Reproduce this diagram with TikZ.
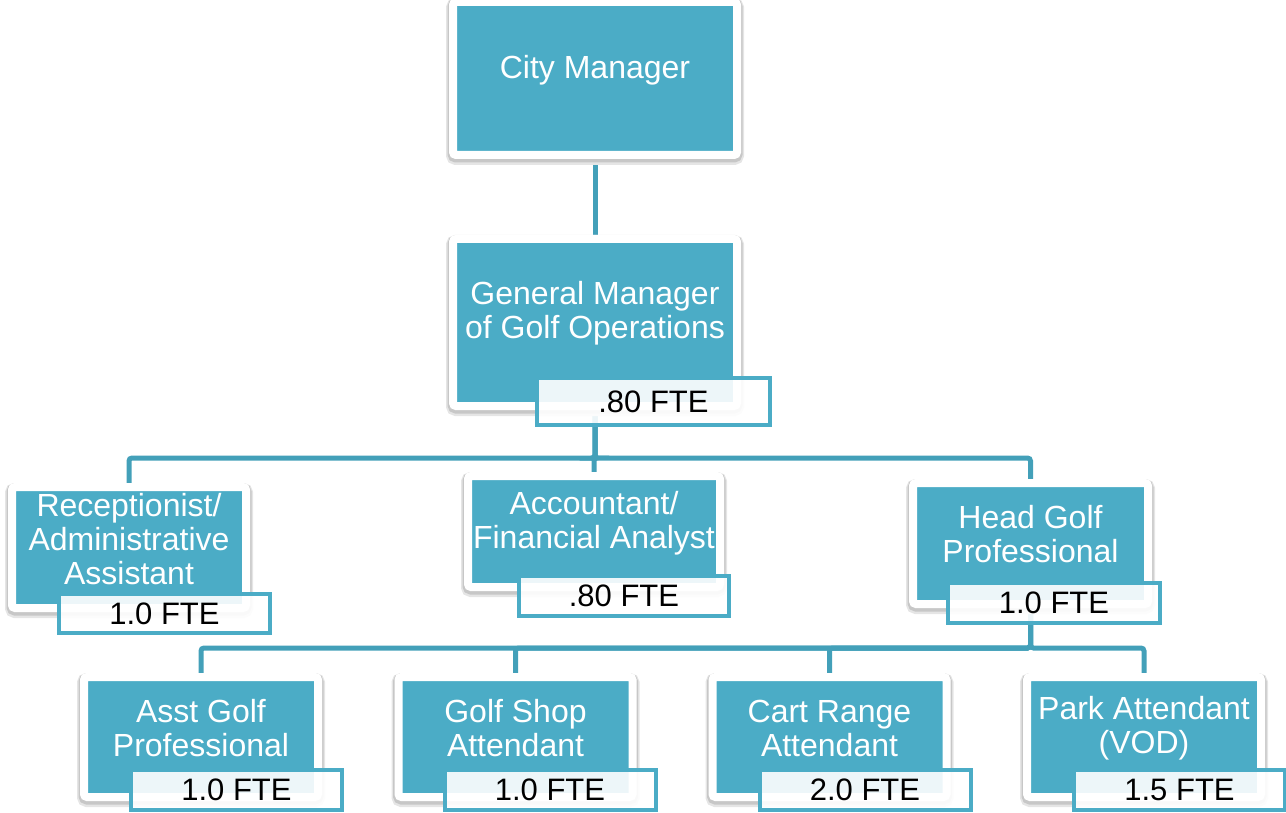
\documentclass[tikz,border=0pt]{standalone}
\usepackage{fontspec}
\setmainfont{Liberation Sans}
\usetikzlibrary{backgrounds,positioning,shadows}
\definecolor{aqua}{HTML}{4BACC6}
\definecolor{aqualine}{HTML}{43A0B9}

\begin{document}
\begin{tikzpicture}
[x=1pt,y=-1pt,
unit/.style={rectangle,fill=aqua,draw=white,line width=8pt,rounded corners=3pt,inner sep=0pt,
preaction={draw=black!10,line width=14pt,transform canvas={yshift=-3pt}},
preaction={draw=black!22,line width=11pt,transform canvas={yshift=-2pt}}},
lower/.style={unit,minimum width=234pt,minimum height=120pt},
unittext/.style={text=white,align=center,font=\fontsize{32}{34}\selectfont},
fte/.style={rectangle,draw=aqua,line width=4pt,fill=white,fill opacity=.9,text opacity=1,
inner sep=0pt,minimum width=211pt,minimum height=40pt,font=\fontsize{31}{34}\selectfont},
link/.style={draw=aqualine,line width=5pt,rounded corners=3pt}]
\useasboundingbox (0,0) rectangle (1286,813);

% top two boxes
\node at (595,78.5) [unit,minimum width=284pt,minimum height=153pt] (cm){};
\node at (595,70) [unittext] (cmt){City Manager};
\node at (595,322.5) [unit,minimum width=284pt,minimum height=167pt] (gm){};
\node at (595,313.5) [unittext] (gmt){General Manager\\of Golf Operations};
\node at (653.5,401.5) [fte,minimum width=233pt,minimum height=47pt] (gmf){.80 FTE};

% middle row
\node at (129,547.5) [unit,minimum width=234pt,minimum height=121pt] (ra){};
\node at (129,539) [unittext] (rat){Receptionist/\\Administrative\\Assistant};
\node at (164.5,613.5) [fte,minimum height=39pt] (raf){1.0 FTE};
\node at (594,531.5) [unit,minimum width=252pt,minimum height=111pt] (acc){};
\node at (594,523.5) [unittext] (acct){Accountant/\\Financial Analyst};
\node at (624,596) [fte,minimum width=210pt] (accf){.80 FTE};
\node at (1030.5,543.5) [unit,minimum width=235pt,minimum height=121pt] (hgp){};
\node at (1030.5,534.5) [unittext] (hgpt){Head Golf\\Professional};
\node at (1054,603) [fte,minimum width=212pt] (hgpf){1.0 FTE};

% bottom row
\node at (201,737) [lower] (agp){};
\node at (201,728.5) [unittext] (agpt){Asst Golf\\Professional};
\node at (236.5,790) [fte] (agpf){1.0 FTE};
\node at (515.5,737) [lower] (gsa){};
\node at (515.5,728.5) [unittext] (gsat){Golf Shop\\Attendant};
\node at (550,790) [fte] (gsaf){1.0 FTE};
\node at (829.5,737) [lower] (cra){};
\node at (829.5,728.5) [unittext] (crat){Cart Range\\Attendant};
\node at (865,790) [fte] (craf){2.0 FTE};
\node at (1144,737) [lower] (pa){};
\node at (1144,728.5) [unittext] (pat){Park Attendant\\(VOD)};
\node at (1179.5,790) [fte] (paf){1.5 FTE};

\coordinate (b1) at (595,458);
\coordinate (b2) at (1030.5,648);
\begin{scope}[on background layer]
\draw [link] (cm) -- (gm);
\draw [link] (gm.south) -- (b1) -| (ra.north);
\draw [link] (gm.south) -- (b1) -| (acc.north);
\draw [link] (gm.south) -- (b1) -| (hgp.north);
\draw [link] (hgp.south) -- (b2) -| (agp.north);
\draw [link] (hgp.south) -- (b2) -| (gsa.north);
\draw [link] (hgp.south) -- (b2) -| (cra.north);
\draw [link] (hgp.south) -- (b2) -| (pa.north);
\end{scope}
\end{tikzpicture}
\end{document}
